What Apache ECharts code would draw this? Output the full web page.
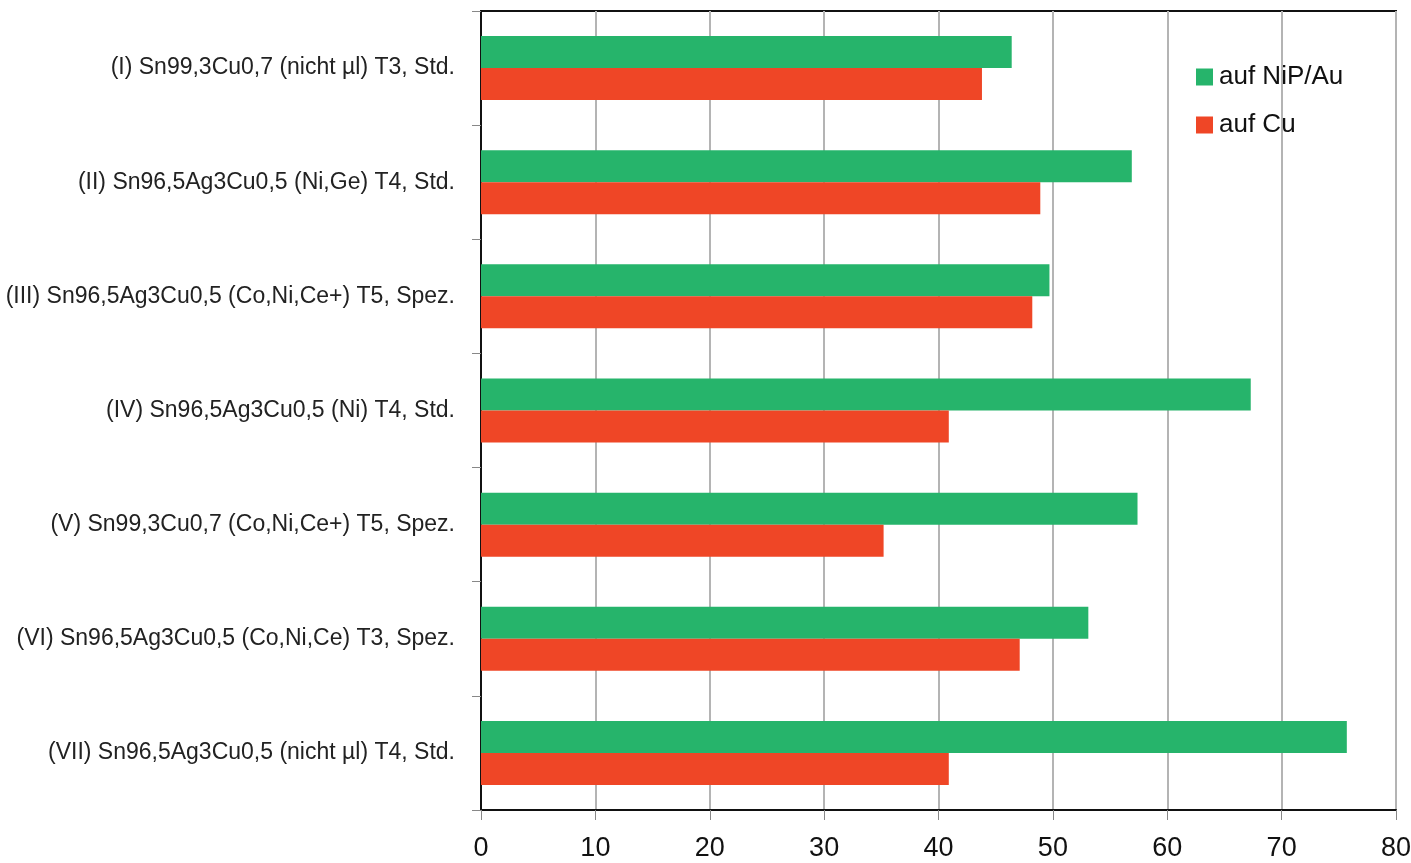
<!DOCTYPE html>
<html>
<head>
<meta charset="utf-8">
<script src="https://cdn.jsdelivr.net/npm/echarts@6/dist/echarts.min.js"></script>
<style>
html,body{margin:0;padding:0;background:#fff;}
#chart{width:1411px;height:863px;}
</style>
</head>
<body>
<div id="chart"></div>
<script>
const categories = [
  "(I) Sn99,3Cu0,7 (nicht µl) T3, Std.",
  "(II) Sn96,5Ag3Cu0,5 (Ni,Ge) T4, Std.",
  "(III) Sn96,5Ag3Cu0,5 (Co,Ni,Ce+) T5, Spez.",
  "(IV) Sn96,5Ag3Cu0,5 (Ni) T4, Std.",
  "(V) Sn99,3Cu0,7 (Co,Ni,Ce+) T5, Spez.",
  "(VI) Sn96,5Ag3Cu0,5 (Co,Ni,Ce) T3, Spez.",
  "(VII) Sn96,5Ag3Cu0,5 (nicht µl) T4, Std."
];
const seriesNames = ["auf NiP/Au", "auf Cu"];
const valuesNiPAu = [46.4, 56.9, 49.7, 67.3, 57.4, 53.1, 75.7];
const valuesCu = [43.8, 48.9, 48.2, 40.9, 35.2, 47.1, 40.9];
const xTicks = [0, 10, 20, 30, 40, 50, 60, 70, 80];

const chart = echarts.init(document.getElementById('chart'));
chart.setOption({
  animation: false,
  backgroundColor: '#ffffff',
  grid: {
    left: 481, right: 15, top: 11, bottom: 53,
    outerBoundsMode: 'none', containLabel: false,
    show: true, borderColor: '#111', borderWidth: 2, backgroundColor: 'transparent'
  },
  legend: {
    orient: 'vertical',
    left: 1196, top: 64,
    padding: 0,
    itemWidth: 17, itemHeight: 17, itemGap: 22,
    icon: 'rect',
    textStyle: { fontFamily: 'Liberation Sans, Arial, sans-serif', fontSize: 26, color: '#111', padding: [0,0,0,1] },
    data: seriesNames
  },
  xAxis: {
    type: 'value',
    min: xTicks[0], max: xTicks[xTicks.length - 1], interval: 10,
    axisLine: { show: true, lineStyle: { color: '#111', width: 2 } },
    axisTick: { show: true, length: 10, lineStyle: { color: '#888', width: 1 } },
    splitLine: { show: true, lineStyle: { color: '#b4b4b4', width: 2 } },
    axisLabel: {
      margin: 25, color: '#111',
      fontFamily: 'Liberation Sans, Arial, sans-serif',
      fontSize: 27
    }
  },
  yAxis: {
    type: 'category',
    inverse: true,
    data: categories,
    axisLine: { show: true, lineStyle: { color: '#111', width: 2 } },
    axisTick: { show: true, length: 9, lineStyle: { color: '#888', width: 1 } },
    axisLabel: {
      margin: 26, color: '#222',
      fontFamily: 'Liberation Sans, Arial, sans-serif',
      fontSize: 23
    }
  },
  series: [
    {
      name: seriesNames[0], type: 'bar', data: valuesNiPAu,
      barWidth: 32, barGap: '0%',
      itemStyle: { color: '#26B46B' }
    },
    {
      name: seriesNames[1], type: 'bar', data: valuesCu,
      barWidth: 32, barGap: '0%',
      itemStyle: { color: '#EF4626' }
    }
  ]
});
</script>
</body>
</html>
